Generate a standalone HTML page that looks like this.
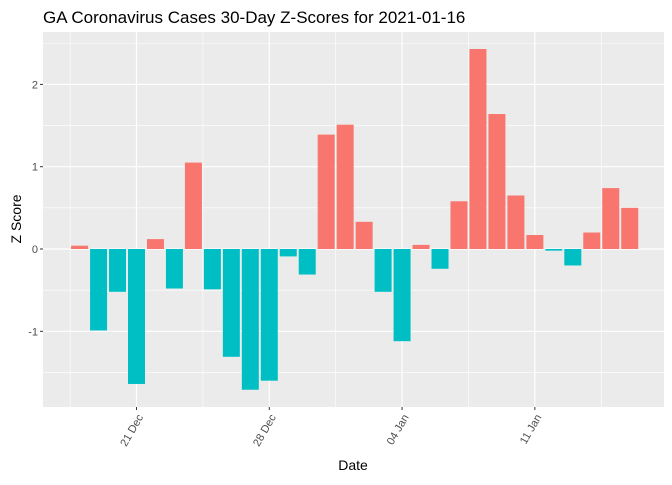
<!DOCTYPE html>
<html><head><meta charset="utf-8"><style>
body{margin:0;background:#fff;}
svg text{font-family:"Liberation Sans",Arial,sans-serif;}
</style></head><body>
<svg id="chart" width="672" height="480" xmlns="http://www.w3.org/2000/svg">
<text x="43" y="23" font-size="17" fill="#000">GA Coronavirus Cases 30-Day Z-Scores for 2021-01-16</text>
<rect x="43" y="32" width="621" height="375" fill="#ebebeb"/>
<g id="grid"></g>
<g id="bars"></g>
<g id="axes"></g>
<text x="353" y="470" font-size="14" text-anchor="middle" fill="#000">Date</text>
<text transform="translate(21,219) rotate(-90)" font-size="14" text-anchor="middle" fill="#000">Z Score</text>
</svg>
<script>
// days offset from 2020-12-21
const dayOffsets = [-3,-2,-1,0,1,2,3,4,5,6,7,8,9,10,11,12,13,14,15,16,17,18,19,20,21,22,23,24,25,26];
const zScores = [0.04,-0.99,-0.52,-1.64,0.12,-0.48,1.05,-0.49,-1.31,-1.71,-1.60,-0.09,-0.31,1.39,1.51,0.33,-0.52,-1.12,0.05,-0.24,0.58,2.43,1.64,0.65,0.17,-0.02,-0.20,0.20,0.74,0.50];
const yTicks = [-1,0,1,2];
const yMinor = [-1.5,-0.5,0.5,1.5,2.5];
const xTickDays = [0,7,14,21];
const xTickLabels = ["21 Dec","28 Dec","04 Jan","11 Jan"];
const xMinorDays = [-3.5,3.5,10.5,17.5,24.5];

const NS="http://www.w3.org/2000/svg";
const X0=43,X1=664,Y0=32,Y1=407;
const xs=d=>136.5+18.97*d;
const ys=v=>249-82.3*v;
function mk(tag,attrs,parent){const e=document.createElementNS(NS,tag);for(const k in attrs)e.setAttribute(k,attrs[k]);parent.appendChild(e);return e;}
const grid=document.getElementById('grid'),bars=document.getElementById('bars'),axes=document.getElementById('axes');
yMinor.forEach(v=>{const l=mk('line',{x1:X0,x2:X1,y1:ys(v),y2:ys(v),stroke:'#fff','stroke-width':0.6},grid);

});
xMinorDays.forEach(d=>{const l=mk('line',{x1:xs(d),x2:xs(d),y1:Y0,y2:Y1,stroke:'#fff','stroke-width':0.6},grid);

});
yTicks.forEach(v=>{const y=ys(v);
const l=mk('line',{x1:X0,x2:X1,y1:y,y2:y,stroke:'#fff','stroke-width':1.2},grid);


const t=mk('line',{x1:X0-3,x2:X0,y1:y,y2:y,stroke:'#333','stroke-width':1},axes);


const tx=mk('text',{x:X0-5,y:y+4,'font-size':11,'text-anchor':'end',fill:'#4d4d4d'},axes);
tx.textContent=v;

});
xTickDays.forEach((d,i)=>{const x=xs(d);
const l=mk('line',{x1:x,x2:x,y1:Y0,y2:Y1,stroke:'#fff','stroke-width':1.2},grid);


const t=mk('line',{x1:x,x2:x,y1:Y1,y2:Y1+3,stroke:'#333','stroke-width':1},axes);


const tx=mk('text',{transform:`translate(${x+7},${Y1+10}) rotate(-60)`,'font-size':11,'text-anchor':'end',fill:'#4d4d4d'},axes);
tx.textContent=xTickLabels[i];

});
zScores.forEach((v,i)=>{const x=xs(dayOffsets[i]);const y=ys(Math.max(v,0));const h=Math.abs(ys(v)-ys(0));
const r=mk('rect',{x:x-8.5,y:y,width:17,height:h,fill:v>=0?'#f8766d':'#00bfc4'},bars);

});
</script>
</body></html>
